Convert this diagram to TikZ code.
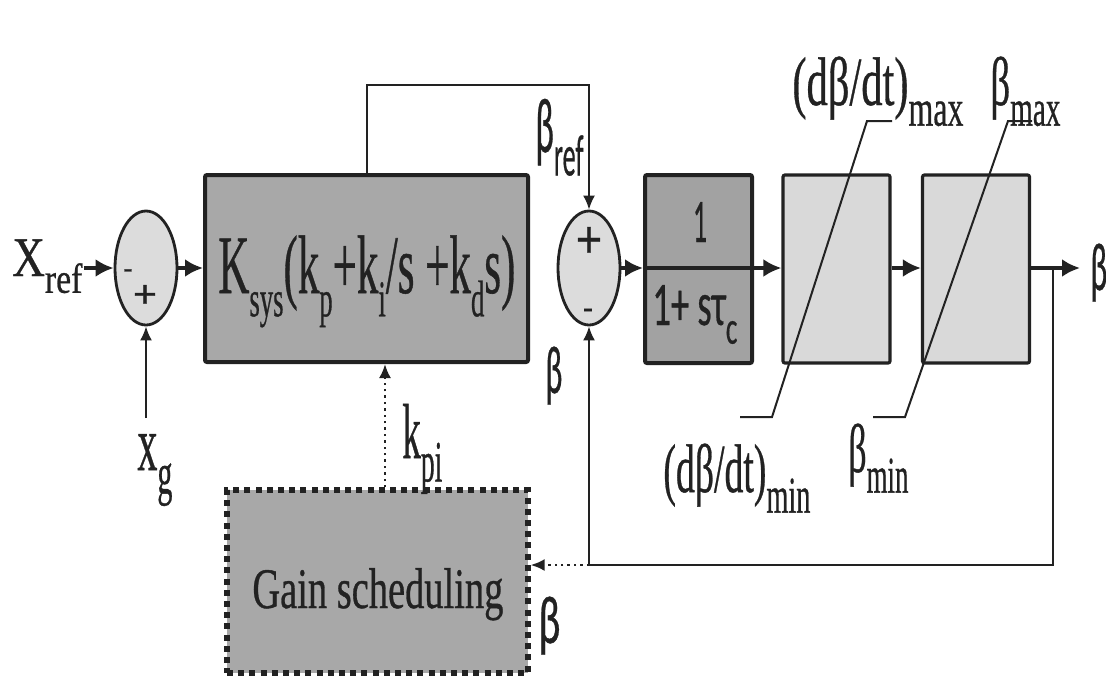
\documentclass[tikz,border=0pt]{standalone}
\usepackage{fontspec}
\setmainfont{Liberation Serif}[FakeBold=0.7]
\newfontfamily\sansf{Carlito}[FakeBold=0.6]
\usetikzlibrary{arrows.meta,shapes.geometric,calc}
\newcommand{\dn}[1]{\raisebox{-0.3em}{\scalebox{0.75}{#1}}}
\newcommand{\dns}[1]{\raisebox{-0.28em}{\scalebox{0.62}{#1}}}
\newcommand{\fw}[2]{\resizebox{#1}{\height}{#2}}
\newcommand{\fs}[1]{\fontsize{#1}{#1}\selectfont}
\definecolor{ink}{HTML}{222222}
\definecolor{darkfill}{HTML}{A8A8A8}
\definecolor{midfill}{HTML}{A2A2A2}
\definecolor{lightfill}{HTML}{D9D9D9}
\definecolor{sumfill}{HTML}{DCDCDC}
\begin{document}
\begin{tikzpicture}[x=0.5pt,y=-0.5pt,
  lbl/.style={inner sep=0pt, anchor=base west, text=ink},
  sumnode/.style={ellipse, draw=ink, line width=1.4pt, fill=sumfill, minimum width=31pt, minimum height=57pt, inner sep=0pt},
  dblock/.style={rectangle, rounded corners=1pt, draw=ink, line width=2pt, fill=darkfill, inner sep=0pt},
  lblock/.style={rectangle, rounded corners=1pt, draw=ink, line width=1.6pt, fill=lightfill, inner sep=0pt, minimum width=53.5pt, minimum height=94pt},
  sig/.style={draw=ink, line width=2pt, -{Latex[length=9pt,width=9pt]}},
  thin/.style={draw=ink, line width=1pt, -{Latex[length=7pt,width=6pt]}},
  dots/.style={draw=ink, line width=1.2pt, dotted, -{Latex[length=7pt,width=6pt]}},
  satline/.style={draw=ink, line width=1pt},
  sign/.style={inner sep=0pt, text=ink, font=\sansf}
]
\useasboundingbox[fill=white] (0,0) rectangle (1106,681);

% blocks
\node[sumnode] (sum1) at (146,268) {};
\node[sumnode] (sum2) at (589,268) {};
\node[dblock, minimum width=161.5pt, minimum height=93.5pt] (ksys) at (366.5,268.5) {};
\node[dblock, fill=midfill, minimum width=53.5pt, minimum height=94pt] (filt) at (698.5,269) {};
\node[lblock] (rate) at (836.5,269) {};
\node[lblock] (sat) at (976,269) {};
\node[rectangle, draw=ink, line width=2.6pt, dash pattern=on 3pt off 2.6pt, fill=darkfill, minimum width=150.5pt, minimum height=91.5pt, inner sep=0pt] (gain) at (377.5,581.5) {};

% signs
\node[sign] (s1m) at (128,274) {\resizebox{4.5pt}{!}{-}};
\node[sign] (s1p) at (145,296) {\resizebox{11pt}{11pt}{+}};
\node[sign] (s2p) at (589,242) {\resizebox{12pt}{15pt}{+}};
\node[sign] (s2m) at (588,314) {\resizebox{5pt}{!}{-}};

% texts
\node[lbl] (xref) at (12,276) {\fs{28}\fw{35pt}{X\dn{ref}}};
\node[lbl] (ksystxt) at (218,293) {\fs{41.5}\fw{148.5pt}{K\dns{sys}(k\dns{p}+k\dns{i}/s +k\dns{d}s)}};
\node[lbl] (xg) at (137,470) {\fs{39}\fw{17.5pt}{x\dn{g}}};
\node[lbl] (kpi) at (402,458) {\fs{39}\fw{20pt}{k\dn{pi}}};
\node[lbl] (gaintxt) at (252,608) {\fs{28.7}\fw{125.5pt}{Gain scheduling}};
\node[lbl] (bref) at (535,152) {\sansf\fs{39}\fw{24pt}{β\dn{ref}}};
\node[lbl, anchor=base] (num) at (700,242) {\sansf\fs{31}\fw{7pt}{1}};
\node[lbl] (den) at (652,325) {\sansf\fs{31}\fw{42.5pt}{1+ sτ\dn{c}}};
\node[lbl] (rmax) at (792,105) {\fs{34.4}\fw{85.5pt}{(dβ/dt)\dn{max}}};
\node[lbl] (bmax) at (990,105) {\fs{34.4}\fw{35pt}{β\dn{max}}};
\node[lbl] (rmin) at (663,492) {\fs{34.4}\fw{73.5pt}{(dβ/dt)\dn{min}}};
\node[lbl] (bmin) at (848,472) {\fs{34.4}\fw{30pt}{β\dn{min}}};
\node[lbl] (bout) at (1090,290) {\sansf\fs{34}\fw{8.5pt}{β}};
\node[lbl] (bfb) at (545,393) {\sansf\fs{34}\fw{8.5pt}{β}};
\node[lbl] (bgs) at (538,643) {\sansf\fs{34}\fw{11pt}{β}};

% saturation characteristics
\draw[satline] (892,121) -- (867,121) -- (772,417) -- (740,417);
\draw[satline] (1032,121) -- (1008,121) -- (905,417) -- (873,417);

% helper coordinates
\coordinate (xin) at (84,268);
\coordinate (topc) at (589,85);
\coordinate (jn) at (1053,268);
\coordinate (out) at (1080,268);
\coordinate (fbc) at (589,565);
\coordinate (xgs) at (146,418);
\coordinate (kx) at (385,0);

% connectors
\draw[sig] (xin) -- (sum1.west);
\draw[sig] (sum1.east) -- (ksys.west |- sum1.east);
\draw[thin] (ksys.north) |- (topc) -- (sum2.north);
\draw[sig] (sum2.east) -- (filt.west |- sum2.east);
\draw[sig] (filt.west |- sum2.east) -- (rate.west |- sum2.east);
\draw[sig] (rate.east |- sum2.east) -- (sat.west |- sum2.east);
\draw[sig] (sat.east |- sum2.east) -- (out);
\draw[thin] (jn) |- (fbc) -- (sum2.south);
\draw[dots] (fbc) -- (gain.east |- fbc);
\draw[thin] (xgs) -- (sum1.south);
\draw[dots] (gain.north -| kx) -- (ksys.south -| kx);
\end{tikzpicture}
\end{document}
